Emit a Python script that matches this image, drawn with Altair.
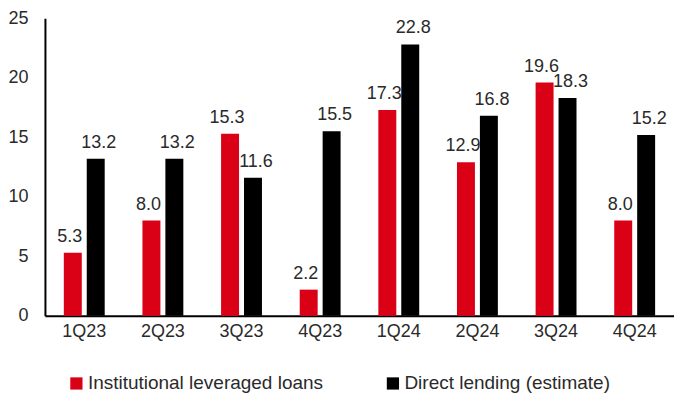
import altair as alt
import pandas as pd

quarters = ["1Q23", "2Q23", "3Q23", "4Q23", "1Q24", "2Q24", "3Q24", "4Q24"]
series = ["Institutional leveraged loans", "Direct lending (estimate)"]
inst_values = [5.3, 8.0, 15.3, 2.2, 17.3, 12.9, 19.6, 8.0]
direct_values = [13.2, 13.2, 11.6, 15.5, 22.8, 16.8, 18.3, 15.2]
colors = ["#DA0016", "#000000"]

rows = []
for q, a, b in zip(quarters, inst_values, direct_values):
    rows.append({"quarter": q, "series": series[0], "value": a, "label": f"{a:.1f}"})
    rows.append({"quarter": q, "series": series[1], "value": b, "label": f"{b:.1f}"})
df = pd.DataFrame(rows)

FONT = "Liberation Sans"
TXT = "#2a2a2a"
FS = 18

x = alt.X("quarter:N", sort=quarters, title=None,
          scale=alt.Scale(paddingInner=0.48, paddingOuter=0.24),
          axis=alt.Axis(labelAngle=0, ticks=False, domainColor="#000000", domainWidth=2,
                        labelFontSize=FS, labelFont=FONT, labelColor=TXT, labelPadding=7))
xo = alt.XOffset("series:N", sort=series, scale=alt.Scale(paddingInner=0.217))

base = alt.Chart(df)

bars = base.mark_bar().encode(
    x=x,
    xOffset=xo,
    y=alt.Y("value:Q", title=None,
            scale=alt.Scale(domain=[0, 25], nice=False),
            axis=alt.Axis(values=[0, 5, 10, 15, 20, 25], ticks=False, grid=False,
                          domainColor="#000000", domainWidth=2,
                          labelFontSize=FS, labelFont=FONT, labelColor=TXT, labelPadding=17)),
    color=alt.Color("series:N", sort=series,
                    scale=alt.Scale(domain=series, range=colors),
                    legend=alt.Legend(title=None, orient="none", direction="horizontal",
                                      legendX=22, legendY=356,
                                      symbolType="square", symbolSize=150,
                                      labelFontSize=19, labelFont=FONT, labelColor=TXT,
                                      labelLimit=0, columnPadding=60, labelOffset=2)),
)

def label_layer(name, dx):
    return base.transform_filter(alt.datum.series == name).mark_text(
        dy=-16, dx=dx, fontSize=FS, font=FONT, color=TXT
    ).encode(
        x=alt.X("quarter:N", sort=quarters),
        xOffset=alt.XOffset("series:N", sort=series),
        y="value:Q",
        text="label:N",
    )

chart = (bars + label_layer(series[0], -3) + label_layer(series[1], 3)).properties(
    width=630, height=298,
    autosize=alt.AutoSizeParams(type="none"),
    padding={"left": 37, "top": 10, "right": 0, "bottom": 79},
).configure_view(stroke=None).configure_axis(grid=False)

chart.save("out.html", embed_options={"renderer": "svg", "actions": False})
